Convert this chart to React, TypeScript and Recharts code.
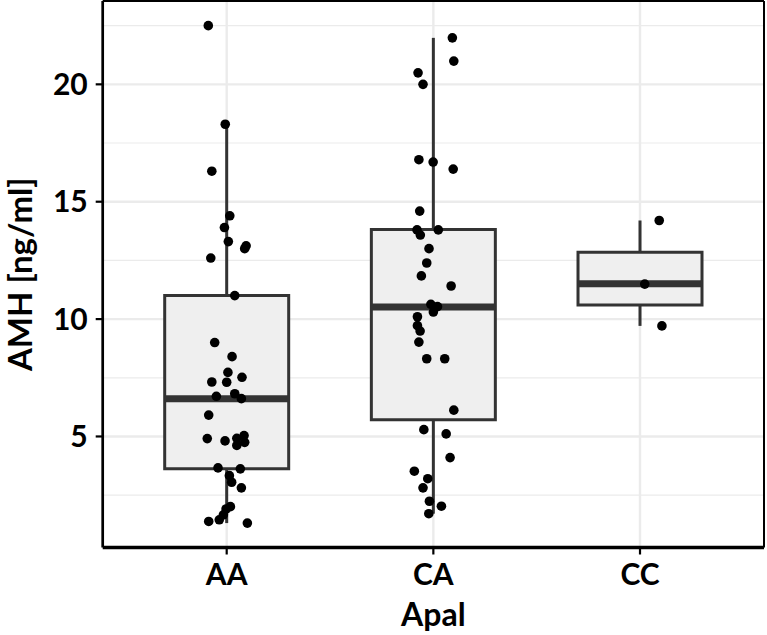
import React from 'react';
import {
  ComposedChart,
  Scatter,
  XAxis,
  YAxis,
  CartesianGrid,
  ReferenceArea,
  ReferenceLine,
} from 'recharts';

// ---- data ----
const categories = ['AA', 'CA', 'CC'];
const boxMin = [1.31, 1.71, 9.71];
const boxQ1 = [3.62, 5.71, 10.6];
const boxMedian = [6.61, 10.52, 11.5];
const boxQ3 = [11.0, 13.82, 12.85];
const boxMax = [18.3, 21.98, 14.2];

// jittered x positions (category index 1..3 plus jitter) and AMH values
const aaX = [0.911, 0.993, 0.928, 1.015, 0.989, 1.008, 1.087, 1.094, 0.923, 1.039, 0.942, 1.026, 1.006, 1.074, 0.928, 1.0, 1.039, 0.95, 1.071, 0.913, 0.906, 0.992, 1.049, 1.084, 1.087, 1.049, 0.958, 1.066, 1.013, 1.024, 1.071, 1.018, 0.997, 0.984, 0.964, 0.913, 1.1];
const aaY = [22.5, 18.3, 16.3, 14.4, 13.9, 13.3, 13.0, 13.12, 12.6, 11.0, 9.0, 8.4, 7.73, 7.52, 7.32, 7.31, 6.82, 6.71, 6.61, 5.91, 4.91, 4.81, 4.92, 5.04, 4.75, 4.62, 3.66, 3.62, 3.33, 3.05, 2.81, 2.01, 1.91, 1.66, 1.45, 1.38, 1.31];
const caX = [2.092, 2.099, 1.926, 1.95, 1.93, 1.999, 2.096, 1.934, 1.921, 2.024, 1.937, 1.979, 1.968, 1.942, 2.086, 1.988, 2.02, 2.0, 1.923, 1.923, 1.936, 1.93, 1.968, 2.055, 2.099, 1.954, 2.062, 2.081, 1.908, 1.973, 1.95, 1.981, 2.039, 1.978];
const caY = [21.98, 20.99, 20.49, 20.0, 16.79, 16.69, 16.39, 14.6, 13.8, 13.8, 13.58, 13.0, 12.39, 11.84, 11.41, 10.63, 10.53, 10.3, 10.1, 9.72, 9.49, 9.02, 8.31, 8.31, 6.12, 5.29, 5.11, 4.1, 3.52, 3.2, 2.81, 2.24, 2.03, 1.71];
const ccX = [3.093, 3.023, 3.106];
const ccY = [14.2, 11.49, 9.71];

const yTicks = [5, 10, 15, 20];
const yMinorGrid = [2.5, 7.5, 12.5, 17.5, 22.5];
const xTicks = [1, 2, 3];

const points = [
  ...aaX.map((x, i) => ({ x, y: aaY[i] })),
  ...caX.map((x, i) => ({ x, y: caY[i] })),
  ...ccX.map((x, i) => ({ x, y: ccY[i] })),
];

const FONT = 'Lato, "Liberation Sans", sans-serif';
const BOX_HALF = 0.3;
const BOX_STROKE = '#333333';
const Y_DOMAIN: [number, number] = [0.27, 23.55];
const X_DOMAIN: [number, number] = [0.4, 3.6];

const YLabel = (props: any) => {
  const vb = props.viewBox;
  const cx = vb.x + 19;
  const cy = vb.y + vb.height / 2;
  return (
    <text
      x={cx}
      y={cy}
      transform={`rotate(-90, ${cx}, ${cy})`}
      textAnchor="middle"
      dominantBaseline="central"
      fontFamily={FONT}
      fontWeight="bold"
      fontSize={33}
      fill="#000"
    >
      AMH [ng/ml]
    </text>
  );
};

const XLabel = (props: any) => {
  const vb = props.viewBox;
  return (
    <text
      x={vb.x + vb.width / 2}
      y={vb.y + 78}
      textAnchor="middle"
      fontFamily={FONT}
      fontWeight="bold"
      fontSize={32}
      fill="#000"
    >
      Apal
    </text>
  );
};

const Dot = (props: any) => (
  <circle cx={props.cx} cy={props.cy} r={4.8} fill="#000" />
);

export default function App() {
  return (
    <div style={{ position: 'absolute', left: 0, top: 0, background: '#fff' }}>
      <ComposedChart
        width={767}
        height={635}
        margin={{ top: 1, right: 3, bottom: 0, left: 0 }}
      >
        <CartesianGrid
          vertical={false}
          horizontalValues={yMinorGrid}
          stroke="#ebebeb"
          strokeWidth={1.2}
        />
        <CartesianGrid
          horizontalValues={yTicks}
          verticalValues={xTicks}
          stroke="#ebebeb"
          strokeWidth={2.4}
        />
        <XAxis
          type="number"
          dataKey="x"
          domain={X_DOMAIN}
          ticks={xTicks}
          allowDataOverflow
          interval={0}
          tickFormatter={(v: number) => categories[v - 1]}
          height={87.5}
          tickSize={7}
          tickMargin={9}
          axisLine={{ stroke: '#000', strokeWidth: 3.3 }}
          tickLine={{ stroke: '#000', strokeWidth: 2.2 }}
          tick={{ fontFamily: FONT, fontWeight: 'bold', fontSize: 30, fill: '#000' }}
          label={<XLabel />}
        />
        <YAxis
          type="number"
          dataKey="y"
          domain={Y_DOMAIN}
          ticks={yTicks}
          allowDataOverflow
          interval={0}
          width={102.7}
          tickSize={7}
          tickMargin={8}
          axisLine={{ stroke: '#000', strokeWidth: 2.7 }}
          tickLine={{ stroke: '#000', strokeWidth: 2.2 }}
          tick={{ fontFamily: FONT, fontWeight: 'bold', fontSize: 30, fill: '#000' }}
          label={<YLabel />}
        />
        <ReferenceLine y={Y_DOMAIN[1]} stroke="#000" strokeWidth={2} />
        <ReferenceLine x={X_DOMAIN[1]} stroke="#000" strokeWidth={2} />
        {categories.map((c, i) => (
          <ReferenceLine
            key={`wu-${c}`}
            segment={[
              { x: i + 1, y: boxQ3[i] },
              { x: i + 1, y: boxMax[i] },
            ]}
            stroke={BOX_STROKE}
            strokeWidth={3}
          />
        ))}
        {categories.map((c, i) => (
          <ReferenceLine
            key={`wl-${c}`}
            segment={[
              { x: i + 1, y: boxMin[i] },
              { x: i + 1, y: boxQ1[i] },
            ]}
            stroke={BOX_STROKE}
            strokeWidth={3}
          />
        ))}
        {categories.map((c, i) => (
          <ReferenceArea
            key={`box-${c}`}
            x1={i + 1 - BOX_HALF}
            x2={i + 1 + BOX_HALF}
            y1={boxQ1[i]}
            y2={boxQ3[i]}
            fill="#efefef"
            fillOpacity={1}
            stroke={BOX_STROKE}
            strokeWidth={3}
          />
        ))}
        {categories.map((c, i) => (
          <ReferenceLine
            key={`med-${c}`}
            segment={[
              { x: i + 1 - BOX_HALF, y: boxMedian[i] },
              { x: i + 1 + BOX_HALF, y: boxMedian[i] },
            ]}
            stroke={BOX_STROKE}
            strokeWidth={7}
          />
        ))}
        <Scatter
          data={points}
          dataKey="y"
          shape={<Dot />}
          isAnimationActive={false}
        />
      </ComposedChart>
    </div>
  );
}
